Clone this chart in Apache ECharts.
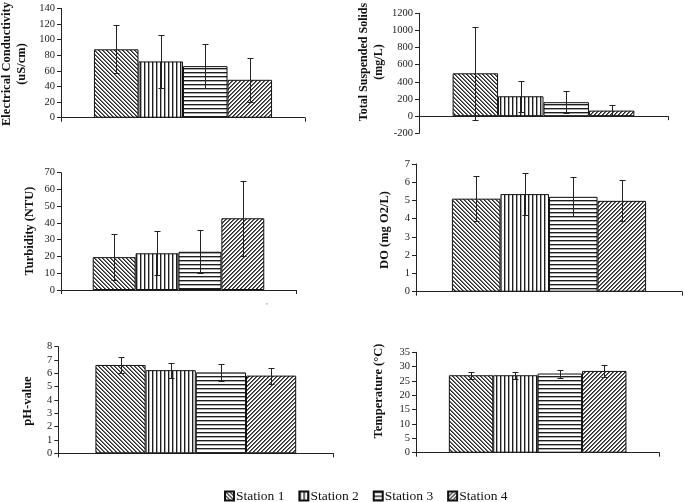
<!DOCTYPE html>
<html><head><meta charset="utf-8">
<script src="https://cdn.jsdelivr.net/npm/echarts@6/dist/echarts.min.js"></script>
<style>html,body{margin:0;padding:0;background:#fff}#c{width:685px;height:502px}</style>
</head><body><div id="c"></div>
<script>
const stations = ['Station 1', 'Station 2', 'Station 3', 'Station 4'];

const ecMean = [87.5, 72, 66, 48.5];
const ecSd = [30.5, 34, 28, 28.5];
const tssMean = [500, 232, 163, 65];
const tssSd = [545, 178, 127, 67];
const turbMean = [19.6, 21.9, 22.8, 42.8];
const turbSd = [13.9, 13.2, 12.9, 22.4];
const doMean = [5.1, 5.35, 5.2, 4.98];
const doSd = [1.23, 1.13, 1.07, 1.13];
const phMean = [6.63, 6.24, 6.07, 5.83];
const phSd = [0.63, 0.56, 0.61, 0.6];
const tempMean = [27, 27, 27.6, 28.5];
const tempSd = [1.3, 1.3, 1.4, 2.2];

const ecTicks = { min: 0, max: 140, interval: 20 };
const tssTicks = { min: -200, max: 1200, interval: 200 };
const turbTicks = { min: 0, max: 70, interval: 10 };
const doTicks = { min: 0, max: 7, interval: 1 };
const phTicks = { min: 0, max: 8, interval: 1 };
const tempTicks = { min: 0, max: 35, interval: 5 };

const panels = [
  { mean: ecMean, sd: ecSd, ticks: ecTicks, grid: { left: 61, top: 8.3, width: 244, height: 109.4 } },
  { mean: tssMean, sd: tssSd, ticks: tssTicks, grid: { left: 419, top: 13.3, width: 249, height: 120 } },
  { mean: turbMean, sd: turbSd, ticks: turbTicks, grid: { left: 61, top: 172.7, width: 235, height: 117.3 } },
  { mean: doMean, sd: doSd, ticks: doTicks, grid: { left: 416, top: 164, width: 266, height: 127.7 } },
  { mean: phMean, sd: phSd, ticks: phTicks, grid: { left: 58.3, top: 346.7, width: 275, height: 106.6 } },
  { mean: tempMean, sd: tempSd, ticks: tempTicks, grid: { left: 416, top: 352.3, width: 243.3, height: 100.4 } }
];

function makePattern(kind) {
  const n = 4;
  const c = document.createElement('canvas');
  c.width = n; c.height = n;
  const ctx = c.getContext('2d');
  const img = ctx.createImageData(n, n);
  for (let y = 0; y < n; y++) {
    for (let x = 0; x < n; x++) {
      let v = 255;
      if (kind === 0) { const m = ((x - y) % n + n) % n; if (m === 0) v = 40; else if (m === 1) v = 120; }
      if (kind === 1) { if (x === 0) v = 30; else if (x === 1) v = 170; }
      if (kind === 2) { if (y === 0) v = 30; else if (y === 1) v = 170; }
      if (kind === 3) { const m = (x + y) % n; if (m === 0) v = 40; else if (m === 1) v = 110; }
      const i = (y * n + x) * 4;
      img.data[i] = v; img.data[i + 1] = v; img.data[i + 2] = v; img.data[i + 3] = 255;
    }
  }
  ctx.putImageData(img, 0, 0);
  return { image: c, repeat: 'repeat' };
}
const patterns = [0, 1, 2, 3].map(makePattern);

const GAP = 0.27;
const FONT = 'Liberation Serif';

const grids = [], xAxes = [], yAxes = [], series = [];
panels.forEach((p, gi) => {
  grids.push(Object.assign({ containLabel: false }, p.grid));
  xAxes.push({
    type: 'category', gridIndex: gi, data: [''],
    axisLine: { show: true, onZero: true, lineStyle: { color: '#222', width: 1 } },
    axisTick: { show: true, length: 4, inside: false, lineStyle: { color: '#222' } },
    axisLabel: { show: false }, splitLine: { show: false }
  });
  yAxes.push({
    type: 'value', gridIndex: gi, min: p.ticks.min, max: p.ticks.max, interval: p.ticks.interval,
    axisLine: { show: true, lineStyle: { color: '#222', width: 1 } },
    axisTick: { show: true, length: 4, lineStyle: { color: '#222' } },
    axisLabel: { fontFamily: FONT, fontSize: 10.5, color: '#222', margin: 6, formatter: v => String(v) },
    splitLine: { show: false }
  });
  stations.forEach((s, si) => {
    series.push({
      type: 'bar', name: s, xAxisIndex: gi, yAxisIndex: gi,
      data: [p.mean[si]], barGap: '0%', barCategoryGap: (GAP * 100) + '%',
      itemStyle: { color: patterns[si], borderColor: '#111', borderWidth: 1 },
      emphasis: { disabled: true }, animation: false
    });
  });
  series.push({
    type: 'custom', xAxisIndex: gi, yAxisIndex: gi, z: 10, animation: false,
    encode: { x: 0, y: [1, 2] },
    data: p.mean.map((m, si) => [0, m - p.sd[si], m + p.sd[si], si]),
    renderItem: function (params, api) {
      const si = api.value(3);
      const lo = api.coord([0, api.value(1)]);
      const hi = api.coord([0, api.value(2)]);
      const band = api.size([1, 0])[0];
      const group = band * (1 - GAP);
      const bw = group / 4;
      const x = Math.round(lo[0] - group / 2 + (si + 0.5) * bw) + 0.5;
      const y1 = Math.round(lo[1]) + 0.5, y2 = Math.round(hi[1]) + 0.5;
      const st = { stroke: '#222', lineWidth: 1 };
      return {
        type: 'group', children: [
          { type: 'line', shape: { x1: x, y1: y1, x2: x, y2: y2 }, style: st },
          { type: 'line', shape: { x1: x - 3, y1: y1, x2: x + 3, y2: y1 }, style: st },
          { type: 'line', shape: { x1: x - 3, y1: y2, x2: x + 3, y2: y2 }, style: st }
        ]
      };
    }
  });
});

function vtext(text, x, y, size) {
  return {
    type: 'text', x: x, y: y, rotation: Math.PI / 2,
    style: { text: text, fontFamily: FONT, fontWeight: 'bold', fontSize: size || 12.5, fill: '#111',
      align: 'center', verticalAlign: 'middle', lineHeight: 15 }
  };
}

const chart = echarts.init(document.getElementById('c'), null, { renderer: 'canvas' });
chart.setOption({
  animation: false,
  grid: grids, xAxis: xAxes, yAxis: yAxes, series: series,
  legend: {
    data: stations, left: 219, top: 484, itemWidth: 9, itemHeight: 9, itemGap: 14,
    icon: 'rect',
    textStyle: { fontFamily: FONT, fontSize: 13.5, color: '#111', padding: [0, 0, 0, -3] },
    selectedMode: false
  },
  graphic: [
    vtext('Electrical Conductivity\n(uS/cm)', 14, 64, 12.5),
    vtext('Total Suspended Solids\n(mg/L)', 371, 62, 12),
    vtext('Turbidity (NTU)', 30, 231, 12.5),
    vtext('DO (mg O2/L)', 385, 230, 12.5),
    vtext('pH-value', 28, 401, 12.5),
    vtext('Temperature (°C)', 379, 391, 12.5),
    { type: 'text', x: 266, y: 303, style: { text: '\u02bc', fontSize: 8, fill: '#333' } }
  ]
});
</script></body></html>
